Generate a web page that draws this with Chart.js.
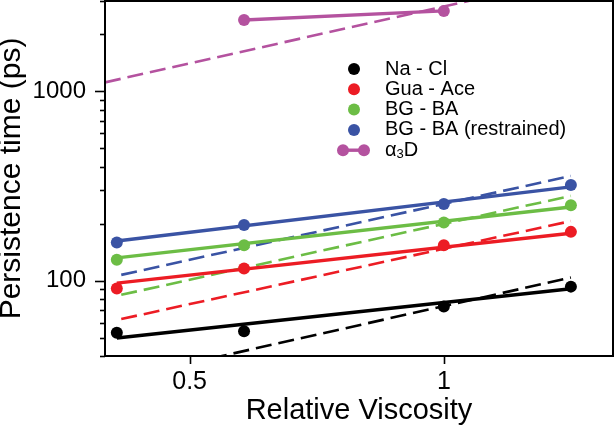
<!DOCTYPE html>
<html>
<head>
<meta charset="utf-8">
<script src="https://cdn.jsdelivr.net/npm/chart.js@4"></script>
<style>
  html, body { margin: 0; padding: 0; background: #fff; }
  #wrap { width: 615px; height: 428px; }
</style>
</head>
<body>
<div id="wrap"><canvas id="chart" width="615" height="428"></canvas></div>
<script>
// Datos
const viscosity = [0.41, 0.58, 1.0, 1.414];
const naCl = [53, 54, 73, 93];
const guaAce = [91, 116, 154, 181];
const bgBa = [129, 154, 203, 250];
const bgBaRestrained = [159, 197, 254, 320];
const a3dViscosity = [0.58, 1.0];
const a3d = [2380, 2660];

// Ajustes (líneas continuas) en los extremos
const fitX = [0.41, 1.414];
const naClFit = [49.8, 90.6];
const guaAceFit = [97, 178];
const bgBaFit = [132, 245];
const bgBaRestrainedFit = [162, 313];

// Escalado lineal con la viscosidad (líneas discontinuas)
const scaleX = [0.415, 1.414];
const naClScale = [30.4, 103.8];
const guaAceScale = [62.7, 206.4];
const bgBaScale = [84.2, 280.4];
const bgBaRestrainedScale = [107.3, 357.3];
const a3dScaleX = [0.397, 1.2];
const a3dScale = [1115, 3370];

// Ejes
const xTicks = [0.5, 1];
const yTicks = [40, 50, 60, 70, 80, 90, 100, 200, 300, 400, 500, 600, 700, 800, 900, 1000, 2000, 3000];
const yLabels = [100, 1000];

const colors = {
    naCl: "#000000",
    guaAce: "#ec1c24",
    bgBa: "#6cbd45",
    bgBaRestrained: "#3a53a4",
    a3d: "#b4529f"
};
const FONT = "'Liberation Sans', Arial, sans-serif";

const pts = (xs, ys) => ys.map((v, i) => ({ x: xs[i], y: v }));

function markers(data, color) {
    return { data: pts(viscosity, data), showLine: false, pointRadius: 6, pointHoverRadius: 6,
             pointBackgroundColor: color, pointBorderWidth: 0, borderColor: color, order: 0 };
}
function fit(data, color) {
    return { data: pts(fitX, data), showLine: true, borderColor: color, borderWidth: 3.4, pointRadius: 0, order: 1 };
}
function dashed(xs, data, color) {
    return { data: pts(xs, data), showLine: true, borderColor: color, borderWidth: 2.6,
             borderDash: [16, 7], pointRadius: 0, order: 2 };
}

const legendItems = [
    { label: "Na - Cl", color: colors.naCl },
    { label: "Gua - Ace", color: colors.guaAce },
    { label: "BG - BA", color: colors.bgBa },
    { label: "BG - BA (restrained)", color: colors.bgBaRestrained },
    { label: "α3D", color: colors.a3d, line: true }
];

// Marco, marcas de los ejes y leyenda
const framePlugin = {
    id: "frame",
    afterDraw(chart) {
        const { ctx, chartArea: a, scales: { x, y } } = chart;
        ctx.save();
        ctx.strokeStyle = "#000";
        ctx.lineWidth = 1.6;
        yTicks.forEach(v => {
            const py = Math.round(y.getPixelForValue(v)) + 0.5;
            const len = yLabels.includes(v) ? 10 : 5;
            ctx.beginPath();
            ctx.moveTo(a.left - len, py);
            ctx.lineTo(a.left, py);
            ctx.stroke();
        });
        xTicks.forEach(v => {
            const px = Math.round(x.getPixelForValue(v)) + 0.5;
            ctx.beginPath();
            ctx.moveTo(px, a.bottom);
            ctx.lineTo(px, a.bottom + 8);
            ctx.stroke();
        });
        ctx.lineWidth = 2;
        ctx.strokeRect(a.left, a.top, a.right - a.left, a.bottom - a.top);

        // leyenda
        ctx.textBaseline = "middle";
        ctx.textAlign = "left";
        legendItems.forEach((it, i) => {
            const cy = 69 + i * 20.3;
            ctx.fillStyle = it.color;
            ctx.strokeStyle = it.color;
            if (it.line) {
                ctx.lineWidth = 3.4;
                ctx.beginPath();
                ctx.moveTo(343, cy);
                ctx.lineTo(364, cy);
                ctx.stroke();
                [343, 364].forEach(cx => {
                    ctx.beginPath();
                    ctx.arc(cx, cy, 6, 0, Math.PI * 2);
                    ctx.fill();
                });
            } else {
                ctx.beginPath();
                ctx.arc(354, cy, 6, 0, Math.PI * 2);
                ctx.fill();
            }
            ctx.fillStyle = "#000";
            if (it.line) {
                ctx.font = "20px " + FONT;
                ctx.fillText("α", 385, cy);
                let w = ctx.measureText("α").width;
                ctx.font = "13px " + FONT;
                ctx.fillText("3", 385 + w, cy + 4);
                w += ctx.measureText("3").width;
                ctx.font = "20px " + FONT;
                ctx.fillText("D", 385 + w, cy);
            } else {
                ctx.font = "20px " + FONT;
                ctx.fillText(it.label, 385, cy);
            }
        });
        ctx.restore();
    }
};

const noPad = s => { s.paddingTop = 0; s.paddingBottom = 0; s.paddingLeft = 0; s.paddingRight = 0; };

new Chart(document.getElementById("chart"), {
    type: "scatter",
    data: {
        datasets: [
            markers(naCl, colors.naCl),
            markers(guaAce, colors.guaAce),
            markers(bgBa, colors.bgBa),
            markers(bgBaRestrained, colors.bgBaRestrained),
            { data: pts(a3dViscosity, a3d), showLine: true, borderColor: colors.a3d, borderWidth: 3.4,
              pointRadius: 6, pointBackgroundColor: colors.a3d, pointBorderWidth: 0, order: 0 },
            fit(naClFit, colors.naCl),
            fit(guaAceFit, colors.guaAce),
            fit(bgBaFit, colors.bgBa),
            fit(bgBaRestrainedFit, colors.bgBaRestrained),
            dashed(scaleX, naClScale, colors.naCl),
            dashed(scaleX, guaAceScale, colors.guaAce),
            dashed(scaleX, bgBaScale, colors.bgBa),
            dashed(scaleX, bgBaRestrainedScale, colors.bgBaRestrained),
            dashed(a3dScaleX, a3dScale, colors.a3d)
        ]
    },
    options: {
        responsive: false,
        animation: false,
        layout: { autoPadding: false, padding: { top: 1, right: 2, left: 0, bottom: 0 } },
        plugins: { legend: { display: false }, tooltip: { enabled: false } },
        scales: {
            x: {
                type: "logarithmic",
                min: 0.397,
                max: 1.586,
                afterFit: s => { s.height = 72; noPad(s); },
                afterBuildTicks: s => { s.ticks = xTicks.map(v => ({ value: v })); },
                grid: { display: false, tickLength: 8 },
                border: { display: false },
                ticks: {
                    autoSkip: false, maxRotation: 0, padding: 3, color: "#000",
                    font: { family: FONT, size: 25 },
                    callback: v => String(v)
                },
                title: {
                    display: true, text: "Relative Viscosity", color: "#000",
                    font: { family: FONT, size: 29 }, padding: 0
                }
            },
            y: {
                type: "logarithmic",
                min: 40,
                max: 3000,
                afterFit: s => { s.width = 105; noPad(s); },
                afterBuildTicks: s => { s.ticks = yTicks.map(v => ({ value: v })); },
                grid: { display: false, tickLength: 10 },
                border: { display: false },
                ticks: {
                    autoSkip: false, padding: 9, color: "#000",
                    font: { family: FONT, size: 24 },
                    callback: v => yLabels.includes(v) ? String(v) : ""
                },
                title: {
                    display: true, text: "Persistence time (ps)", color: "#000",
                    font: { family: FONT, size: 30, lineHeight: 0.8 }, padding: 0
                }
            }
        }
    },
    plugins: [framePlugin]
});
</script>
</body>
</html>
